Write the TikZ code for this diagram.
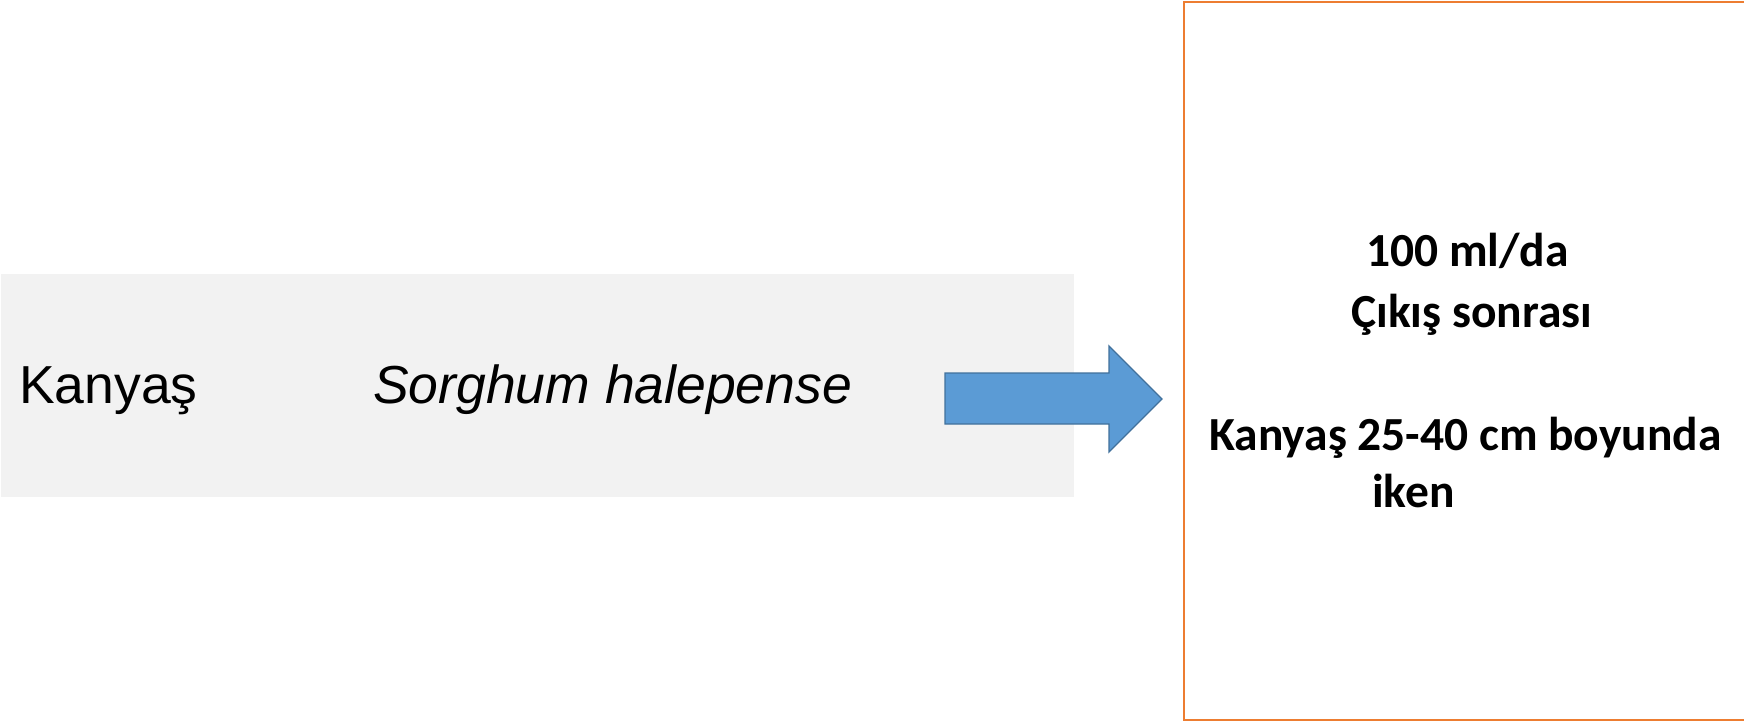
\documentclass[tikz,border=0pt]{standalone}
\usepackage{fontspec}
\setmainfont{Liberation Sans}
\newfontfamily\calfont{Carlito}
\definecolor{bandgray}{HTML}{F2F2F2}
\definecolor{arrowfill}{HTML}{5B9BD5}
\definecolor{arrowline}{HTML}{41719C}
\definecolor{boxorange}{HTML}{ED7D31}
\tikzset{
  lefttext/.style={anchor=base west, inner sep=0pt, font=\fontsize{53.5}{60}\selectfont},
  righttext/.style={anchor=base west, inner sep=0pt, font=\calfont\bfseries\fontsize{47.5}{58}\selectfont},
  blockarrow/.style={fill=arrowfill, draw=arrowline, line width=1.3pt, line join=miter}
}
\begin{document}
\begin{tikzpicture}[x=1pt,y=-1pt]
\useasboundingbox (0,0) rectangle (1744,722);
\fill[white] (0,0) rectangle (1744,722);
% gray band
\fill[bandgray] (1,274) rectangle (1074,497);
\node[lefttext] (kanyas) at (19,403) {Kanyaş};
\node[lefttext] (sorghum) at (373,403) {\itshape Sorghum halepense};
% block arrow
\draw[blockarrow] (945,373) -- (1109,373) -- (1109,346) -- (1162,399) -- (1109,452) -- (1109,424) -- (945,424) -- cycle;
% orange box (cut at the right edge)
\begin{scope}
\clip (0,0) rectangle (1744,722);
\draw[boxorange, line width=2.4pt] (1780,2) -- (1184,2) -- (1184,720) -- (1780,720);
\end{scope}
\node[righttext] (l1) at (1366,266) {100 ml/da};
\node[righttext] (l2) at (1351,327) {Çıkış sonrası};
\node[righttext] (l3) at (1209,450) {Kanyaş 25-40 cm boyunda};
\node[righttext] (l4) at (1372,507) {iken};
\end{tikzpicture}
\end{document}
